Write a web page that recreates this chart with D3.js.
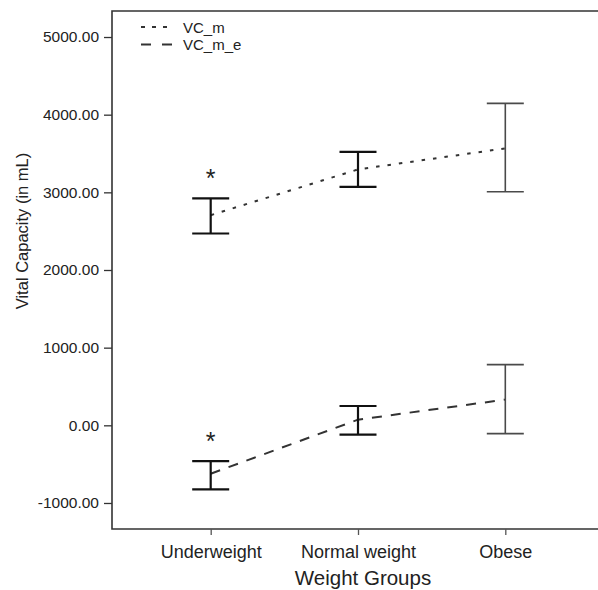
<!DOCTYPE html>
<html><head><meta charset="utf-8">
<script src="https://cdn.jsdelivr.net/npm/d3@7"></script>
<style>body{margin:0;background:#fff}svg{display:block}text{font-family:"Liberation Sans",Arial,Helvetica,sans-serif;fill:#222}</style>
</head><body><svg id="c" width="598" height="590"></svg>
<script>
const categories = ["Underweight", "Normal weight", "Obese"];
const vcMean  = [2706, 3295, 3566];
const vcLow   = [2470, 3071, 3007];
const vcHigh  = [2921, 3522, 4146];
const vceMean = [-623, 73, 331];
const vceLow  = [-825, -120, -107];
const vceHigh = [-460, 249, 782];
const significant = [true, false, false];
const yTicks = [-1000, 0, 1000, 2000, 3000, 4000, 5000];
const seriesNames = ["VC_m", "VC_m_e"];

const svg = d3.select("#c");
const pL = 112, pT = 11, pB = 529, pR = 604;
const y = d3.scaleLinear().domain([-1335, 5335]).range([pB, pT]);
const x = d3.scalePoint().domain(categories).range([pL, pR]).padding(0.67);

// frame
svg.append("path").attr("d", `M${pR},${pT}H${pL}V${pB}H${pR}`)
  .attr("fill","none").attr("stroke","#333").attr("stroke-width",1.6);

// y axis
const fmt = d3.format(".2f");
const ya = svg.append("g").attr("transform",`translate(${pL},0)`)
  .call(d3.axisLeft(y).tickValues(yTicks).tickFormat(d => fmt(d).replace("\u2212","-")).tickSize(8).tickPadding(5));
ya.select(".domain").remove();
ya.selectAll(".tick line").attr("stroke","#333").attr("stroke-width",1.3);
ya.selectAll(".tick text").style("font-size","15.5px").attr("fill","#222");

// x axis
const xa = svg.append("g").attr("transform",`translate(0,${pB})`)
  .call(d3.axisBottom(x).tickSize(6).tickPadding(0));
xa.select(".domain").remove();
xa.selectAll(".tick line").attr("stroke","#555").attr("stroke-width",1.3);
xa.selectAll(".tick text").attr("dy",null).attr("y",29).style("font-size","18px").attr("fill","#222");

// axis titles
svg.append("text").attr("x",363).attr("y",585).attr("text-anchor","middle").style("font-size","20.5px").text("Weight Groups");
svg.append("text").attr("transform","translate(28,231) rotate(-90)").attr("text-anchor","middle").style("font-size","16.5px").text("Vital Capacity (in mL)");

function drawSeries(mean, lo, hi, dash) {
  const line = d3.line().x((d,i)=>x(categories[i])).y(d=>y(d));
  svg.append("path").datum(mean).attr("d", line).attr("fill","none")
    .attr("stroke","#333").attr("stroke-width",2).attr("stroke-dasharray",dash);
  categories.forEach((c,i)=>{
    const cx = x(c), thin = i===2;
    const g = svg.append("g").attr("stroke", thin ? "#4a4a4a" : "#111").attr("stroke-width", thin ? 1.6 : 2.2);
    g.append("line").attr("x1",cx).attr("x2",cx).attr("y1",y(lo[i])).attr("y2",y(hi[i]));
    g.append("line").attr("x1",cx-18.5).attr("x2",cx+18.5).attr("y1",y(lo[i])).attr("y2",y(lo[i]));
    g.append("line").attr("x1",cx-18.5).attr("x2",cx+18.5).attr("y1",y(hi[i])).attr("y2",y(hi[i]));
    if (significant[i]) {
      svg.append("text").attr("x",cx).attr("y",y(hi[i])-11).attr("text-anchor","middle")
        .style("font-size","25px").text("*");
    }
  });
}
drawSeries(vcMean, vcLow, vcHigh, "3.5,8");
drawSeries(vceMean, vceLow, vceHigh, "10,9");

// legend
const lg = svg.append("g");
[["4,7", 27, 167],["10,11", 44.5, 172]].forEach(([dash,ly,x2],i)=>{
  lg.append("line").attr("x1",141).attr("x2",x2).attr("y1",ly).attr("y2",ly)
    .attr("stroke","#333").attr("stroke-width",2).attr("stroke-dasharray",dash);
  lg.append("text").attr("x",183).attr("y",ly+5.5).style("font-size","15px").text(seriesNames[i]);
});
</script></body></html>
